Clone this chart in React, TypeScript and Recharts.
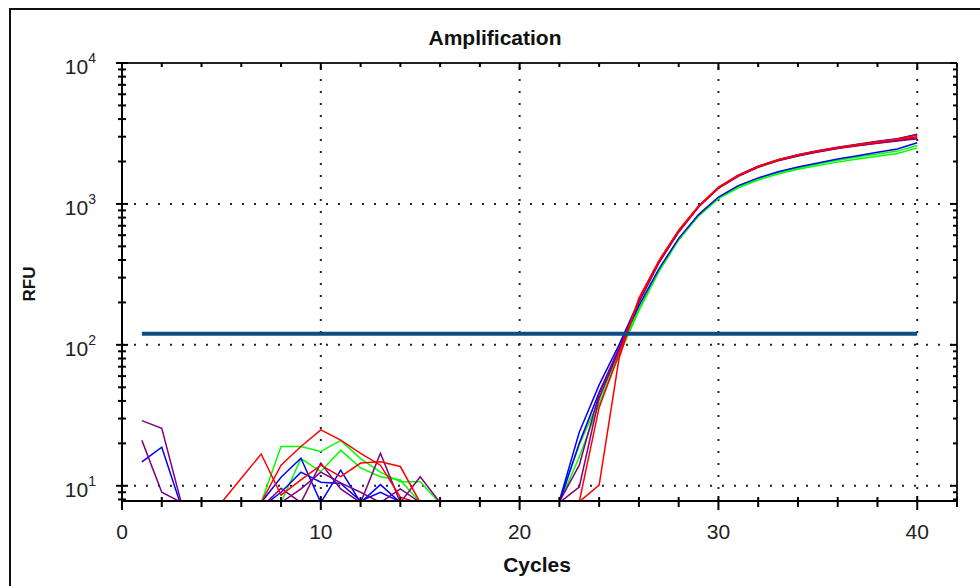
import React from 'react';
import { LineChart, Line, XAxis, YAxis, ReferenceLine } from 'recharts';

const cycles = Array.from({ length: 40 }, (_, i) => i + 1);

const red1 = [7, 7, 7, 7, 7.6, 11.3, 16.8, 8.6, 11, 14, 11.6, 14.5, 14.8, 13.7, 7.6, 7, 7, 7, 7, 7, 7, 7.5, 7.7, 36, 86, 210, 390, 645, 960, 1305, 1590, 1840, 2050, 2220, 2370, 2500, 2620, 2740, 2860, 3000];
const red2 = [7, 7, 7, 7, 7, 7, 7.6, 14, 19, 24.9, 21.1, 17, 14, 8.3, 7.5, 7, 7, 7, 7, 7, 7, 7.5, 7.7, 10.1, 80, 215, 395, 650, 965, 1310, 1600, 1850, 2060, 2230, 2380, 2510, 2640, 2760, 2890, 3080];
const green1 = [7, 7, 7, 7, 7, 7, 7.6, 19, 19, 17.5, 21, 15.6, 12.5, 10.7, 10.7, 7.5, 7, 7, 7, 7, 7, 7.9, 19.5, 41, 88, 180, 335, 560, 830, 1100, 1330, 1510, 1670, 1800, 1920, 2040, 2150, 2260, 2370, 2600];
const green2 = [7, 7, 7, 7, 7, 7, 7, 7.6, 15.6, 12.6, 17.9, 13.4, 11.6, 11, 7.6, 7, 7, 7, 7, 7, 7, 7.6, 16, 38, 84, 175, 330, 555, 820, 1090, 1300, 1480, 1630, 1760, 1870, 1980, 2080, 2180, 2280, 2500];
const blue1 = [14.8, 18.8, 7, 7, 7, 7, 7.6, 11.5, 15.7, 7.6, 12.9, 7.6, 10.2, 7.6, 7.7, 7.6, 7, 7, 7, 7, 7, 7.8, 24, 52, 100, 205, 385, 640, 960, 1310, 1600, 1850, 2060, 2230, 2380, 2520, 2650, 2780, 2900, 3120];
const blue2 = [7, 7, 7, 7, 7, 7, 7, 9, 12.5, 10.6, 10.4, 7.8, 9, 7.7, 7.8, 7.6, 7, 7, 7, 7, 7, 7.6, 20, 46, 94, 190, 345, 570, 840, 1120, 1350, 1530, 1690, 1830, 1950, 2080, 2200, 2330, 2450, 2720];
const purple1 = [29, 25.6, 7.4, 7, 7, 7, 7, 7.6, 9.5, 12.5, 10.5, 9, 7.6, 9.5, 7.6, 7.6, 7, 7, 7, 7, 7, 7.6, 9.8, 42, 92, 200, 380, 630, 950, 1290, 1570, 1820, 2020, 2190, 2340, 2470, 2590, 2700, 2800, 2900];
const purple2 = [21, 9, 7.6, 7, 7, 7, 7, 9.6, 7.6, 14.5, 9.5, 7.6, 17, 7.6, 11.6, 7.6, 7, 7, 7, 7, 7, 7.7, 14, 45, 95, 205, 385, 640, 955, 1300, 1580, 1830, 2030, 2200, 2350, 2480, 2600, 2710, 2820, 2950];

const THRESHOLD = 120;
const THRESHOLD_START = 1;
const THRESHOLD_END = 40;

const xTicks = [0, 2, 4, 6, 8, 10, 12, 14, 16, 18, 20, 22, 24, 26, 28, 30, 32, 34, 36, 38, 40, 42];
const xGridValues = [10, 20, 30, 40];
const yTicks = [8, 9, 10, 20, 30, 40, 50, 60, 70, 80, 90, 100, 200, 300, 400, 500, 600, 700, 800, 900, 1000, 2000, 3000, 4000, 5000, 6000, 7000, 8000, 9000, 10000];
const yGridValues = [10, 100, 1000];
const Y_DOMAIN: [number, number] = [7.8, 10000];
const X_DOMAIN: [number, number] = [0, 42];

const series = [
  { key: 'green1', color: '#00ff00', values: green1 },
  { key: 'green2', color: '#00ff00', values: green2 },
  { key: 'blue2', color: '#0000ff', values: blue2 },
  { key: 'blue1', color: '#0000ff', values: blue1 },
  { key: 'purple1', color: '#800080', values: purple1 },
  { key: 'purple2', color: '#800080', values: purple2 },
  { key: 'red1', color: '#ff0000', values: red1 },
  { key: 'red2', color: '#ff0000', values: red2 },
];

const data = cycles.map((c, i) => {
  const row: Record<string, number> = { cycle: c };
  series.forEach((s) => {
    row[s.key] = s.values[i];
  });
  return row;
});

const FONT = '"Liberation Sans", Arial, sans-serif';

const MARGIN = { top: 58, right: 18, bottom: 15, left: 42 };
const LEFT_AXIS_WIDTH = 80;

const isMajorLog = (v: number) => {
  const e = Math.log10(v);
  return Math.abs(e - Math.round(e)) < 1e-9;
};

const YTickLeft = (props: any) => {
  const { x, y, payload } = props;
  const v = payload.value;
  const major = isMajorLog(v);
  const exp = Math.round(Math.log10(v));
  return (
    <g>
      <line x1={x - (major ? 6 : 4)} x2={x + (major ? 6 : 4)} y1={y} y2={y} stroke="#000" strokeWidth={2} />
      {major && (
        <text x={x - 26} y={y + 11} textAnchor="end" fontSize={21} fontFamily={FONT} fill="#222">
          10
          <tspan fontSize={14} dy={-11}>{exp}</tspan>
        </text>
      )}
    </g>
  );
};

const YTickRight = (props: any) => {
  const { x, y, payload } = props;
  const major = isMajorLog(payload.value);
  return <line x1={x} x2={x - (major ? 7 : 4)} y1={y} y2={y} stroke="#000" strokeWidth={2} />;
};

const XTickBottom = (props: any) => {
  const { x, y, payload } = props;
  const v = payload.value;
  const major = v % 10 === 0;
  return (
    <g>
      <line x1={x} x2={x} y1={y - (major ? 5 : 4)} y2={y + (major ? 9 : 6)} stroke="#000" strokeWidth={2} />
      {major && (
        <text x={x} y={y + 38} textAnchor="middle" fontSize={21} fontFamily={FONT} fill="#222">
          {v}
        </text>
      )}
    </g>
  );
};

const XTickTop = (props: any) => {
  const { x, y, payload } = props;
  const major = payload.value % 10 === 0;
  return <line x1={x} x2={x} y1={y} y2={y + (major ? 7 : 4)} stroke="#000" strokeWidth={2} />;
};

export default function App() {
  return (
    <div style={{ position: 'absolute', left: 0, top: 0, width: 980, height: 586, overflow: 'hidden', background: '#fff' }}>
      <div
        style={{
          position: 'absolute',
          left: 9,
          top: 8,
          width: 1000,
          height: 620,
          border: '2px solid #111',
        }}
      />
      <div
        style={{
          position: 'absolute',
          left: 0,
          top: 26,
          width: 990,
          textAlign: 'center',
          fontFamily: FONT,
          fontWeight: 'bold',
          fontSize: 21,
          color: '#111',
        }}
      >
        Amplification
      </div>
      <div
        style={{
          position: 'absolute',
          left: 537 - 60,
          top: 553,
          width: 120,
          textAlign: 'center',
          fontFamily: FONT,
          fontWeight: 'bold',
          fontSize: 21,
          color: '#111',
        }}
      >
        Cycles
      </div>
      <div
        style={{
          position: 'absolute',
          left: 30 - 40,
          top: 284 - 10,
          width: 80,
          height: 20,
          lineHeight: '20px',
          textAlign: 'center',
          fontFamily: FONT,
          fontWeight: 'bold',
          fontSize: 17,
          color: '#111',
          transform: 'rotate(-90deg)',
        }}
      >
        RFU
      </div>
      <div style={{ position: 'absolute', left: 0, top: 0 }}>
        <LineChart width={980} height={586} data={data} margin={MARGIN}>
          <XAxis
            xAxisId="bottom"
            dataKey="cycle"
            type="number"
            orientation="bottom"
            domain={X_DOMAIN}
            ticks={xTicks}
            interval={0}
            tickSize={0}
            tickMargin={0}
            height={70}
            tickLine={false}
            axisLine={{ stroke: '#000', strokeWidth: 2 }}
            tick={<XTickBottom />}
            allowDataOverflow
          />
          <XAxis
            xAxisId="top"
            dataKey="cycle"
            type="number"
            orientation="top"
            domain={X_DOMAIN}
            ticks={xTicks}
            interval={0}
            tickSize={0}
            tickMargin={0}
            height={5}
            tickLine={false}
            axisLine={{ stroke: '#222', strokeWidth: 2 }}
            tick={<XTickTop />}
            allowDataOverflow
          />
          <YAxis
            yAxisId="left"
            orientation="left"
            scale="log"
            domain={Y_DOMAIN}
            ticks={yTicks}
            interval={0}
            tickSize={0}
            tickMargin={0}
            width={LEFT_AXIS_WIDTH}
            tickLine={false}
            axisLine={{ stroke: '#000', strokeWidth: 2 }}
            tick={<YTickLeft />}
            allowDataOverflow
          />
          <YAxis
            yAxisId="right"
            orientation="right"
            scale="log"
            domain={Y_DOMAIN}
            ticks={yTicks}
            interval={0}
            tickSize={0}
            tickMargin={0}
            width={5}
            tickLine={false}
            axisLine={{ stroke: '#222', strokeWidth: 2 }}
            tick={<YTickRight />}
            allowDataOverflow
          />
          {yGridValues.map((v) => (
            <ReferenceLine
              key={`gy${v}`}
              xAxisId="bottom"
              yAxisId="left"
              y={v}
              stroke="#222"
              strokeWidth={2}
              strokeDasharray="2 10"
            />
          ))}
          {xGridValues.map((v) => (
            <ReferenceLine
              key={`gx${v}`}
              xAxisId="bottom"
              yAxisId="left"
              x={v}
              stroke="#222"
              strokeWidth={2}
              strokeDasharray="2 10"
            />
          ))}
          {series.map((s) => (
            <Line
              key={s.key}
              xAxisId="bottom"
              yAxisId="left"
              type="linear"
              dataKey={s.key}
              stroke={s.color}
              strokeWidth={1.5}
              dot={false}
              isAnimationActive={false}
            />
          ))}
          <ReferenceLine
            xAxisId="bottom"
            yAxisId="left"
            segment={[
              { x: THRESHOLD_START, y: THRESHOLD },
              { x: THRESHOLD_END, y: THRESHOLD },
            ]}
            stroke="#124a85"
            strokeWidth={4}
          />
        </LineChart>
      </div>
    </div>
  );
}
